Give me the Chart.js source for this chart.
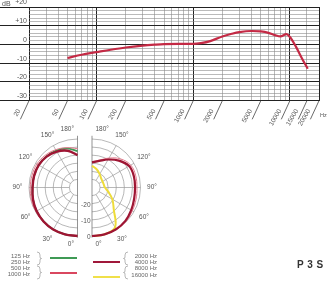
<!DOCTYPE html>
<html>
<head>
<meta charset="utf-8">
<title>P 3 S</title>
<script src="https://cdn.jsdelivr.net/npm/chart.js@4.4.1/dist/chart.umd.min.js"></script>
<style>
  html, body { margin: 0; padding: 0; background: #fff; }
  body { position: relative; width: 330px; height: 281px; overflow: hidden; font-family: 'Liberation Sans', Arial, sans-serif; color: #555; }
  canvas { position: absolute; display: block; }
  #freqChart { left: 0; top: 0; }
  #polarChart { left: 0; top: 120px; }
  .t { position: absolute; white-space: nowrap; line-height: 1; }
  .leg { font-size: 6px; color: #666; text-align: right; width: 40px; }
  .swatch { position: absolute; width: 27px; height: 2px; }
  #model { position: absolute; left: 297px; top: 259px; font-size: 10px; font-weight: bold; color: #333; letter-spacing: 0.5px; }
</style>
</head>
<body>
<canvas id="freqChart" width="330" height="126"></canvas>
<canvas id="polarChart" width="170" height="130"></canvas>

<span class="t" style="left:2px;top:0px;font-size:7px;">dB</span>
<span class="t" style="left:320px;top:113px;font-size:5.5px;">Hz</span>

<div class="t leg" style="left:-10px;top:252.7px">125 Hz</div>
<div class="t leg" style="left:-10px;top:258.7px">250 Hz</div>
<div class="t leg" style="left:-10px;top:265px">500 Hz</div>
<div class="t leg" style="left:-10px;top:271.3px">1000 Hz</div>
<div class="t leg" style="left:117px;top:252.7px">2000 Hz</div>
<div class="t leg" style="left:117px;top:259px">4000 Hz</div>
<div class="t leg" style="left:117px;top:265.3px">8000 Hz</div>
<div class="t leg" style="left:117px;top:271.7px">16000 Hz</div>

<div class="swatch" style="left:50px;top:257.3px;background:#3f9a55"></div>
<div class="swatch" style="left:50px;top:272.3px;background:#d9475f"></div>
<div class="swatch" style="left:93px;top:260.7px;background:#a0183a"></div>
<div class="swatch" style="left:93px;top:276.3px;background:#f0e04a"></div>

<svg style="position:absolute;left:0;top:0;pointer-events:none" width="330" height="281">
  <g fill="none" stroke="#888" stroke-width="0.6">
    <path d="M37 252 q3 0 3 3 v2 q0 1.5 1.5 1.5 q-1.5 0 -1.5 1.5 v2 q0 3 -3 3"/>
    <path d="M37 266 q3 0 3 3 v2 q0 1.5 1.5 1.5 q-1.5 0 -1.5 1.5 v2 q0 3 -3 3"/>
    <path d="M128 252 q-3 0 -3 3 v2 q0 1.5 -1.5 1.5 q1.5 0 1.5 1.5 v2 q0 3 3 3"/>
    <path d="M128 266 q-3 0 -3 3 v2 q0 1.5 -1.5 1.5 q1.5 0 1.5 1.5 v2 q0 3 3 3"/>
  </g>
</svg>

<div id="model">P 3 S</div>

<script>
// frequency response
const freqHz = [50, 70, 100, 140, 200, 300, 400, 500, 700, 1000, 1200, 1500, 2000, 2500, 3000, 4000, 5000, 6000, 7000, 8000, 9200, 10000, 11500, 13300, 15300];
const responseDb = [-7.2, -5.5, -4.1, -2.8, -1.6, -0.6, -0.1, 0.2, 0.3, 0.3, 0.7, 1.8, 4.3, 5.7, 6.6, 7.2, 7.0, 6.2, 5.0, 4.3, 5.5, 4.0, -1.0, -7.3, -13.0];

// axes of the frequency chart
const gridHz = [20, 30, 40, 50, 60, 70, 80, 90, 100, 200, 300, 400, 500, 600, 700, 800, 900, 1000, 2000, 3000, 4000, 5000, 6000, 7000, 8000, 9000, 10000, 15000, 20000];
const freqLabels = [20, 50, 100, 200, 500, 1000, 2000, 5000, 10000, 15000, 20000];
const decadeHz = [20, 100, 1000, 10000, 20000];
const dbGrid = [-30, -28, -26, -24, -22, -20, -18, -16, -14, -12, -10, -8, -6, -4, -2, 0, 2, 4, 6, 8, 10, 12, 14, 16, 18, 20];
const dbLabels = [-30, -20, -10, 0, 10, 20];

// polar patterns, dB at each angle (0° = front, bottom of the plot)
const polarAngles = [0, 15, 30, 45, 60, 75, 90, 105, 120, 135, 150, 165, 180];
const low125_250 = [0, 0, 0, -0.3, -0.8, -1.5, -2.2, -2.2, -2.3, -2.8, -3.6, -5.0, -7.5];
const low500 = [0, 0, 0, -0.1, -0.3, -0.5, -0.8, -0.9, -1.0, -1.8, -3.0, -4.5, -6.0];
const low1000 = [0, 0, 0, -0.3, -0.8, -1.5, -2.2, -2.2, -2.3, -3.0, -4.4, -6.5, -10.0];
const high2000 = [0, 0, -0.2, -0.8, -2.0, -3.0, -3.4, -3.2, -3.5, -6.5, -10.0, -13.0, -14.5];
const high4000 = [0, 0, 0, -0.3, -1.2, -1.8, -2.2, -2.0, -2.3, -5.0, -9.0, -12.5, -14.0];
const high8000 = [0, 0, -1.5, -11.0, -15.5, -19.5, -22.0, -22.5, -22.5, -22.0, -20.5, -18.5, -16.5];
const polarRings = [-25, -20, -15, -10, -5, 0];
const polarSpokes = [30, 60, 90, 120, 150];
const polarAngleLabels = [0, 30, 60, 90, 120, 150, 180];
const polarDbLabels = [0, -10, -20];

const DB_MIN = -30;
const TEXT = '#555';
const FONT = "'Liberation Sans', Arial, sans-serif";

// ---------- frequency response ----------
const slantTicks = {
    id: 'slantTicks',
    afterDraw(chart) {
        const { ctx, chartArea } = chart;
        const x = chart.scales.x;
        ctx.save();
        ctx.strokeStyle = '#444';
        ctx.lineWidth = 0.8;
        freqLabels.forEach(f => {
            const px = x.getPixelForValue(f);
            ctx.beginPath();
            ctx.moveTo(px, chartArea.bottom);
            ctx.lineTo(px - 8.6, chartArea.bottom + 18.6);
            ctx.stroke();
        });
        ctx.restore();
    }
};

const isMajorDb = v => dbLabels.includes(v);
const isDecade = v => decadeHz.includes(v);

new Chart(document.getElementById('freqChart'), {
    type: 'line',
    data: {
        datasets: [{
            data: freqHz.map((f, i) => ({ x: f, y: responseDb[i] })),
            borderColor: '#c42a45',
            borderWidth: 2.2,
            pointRadius: 0,
            cubicInterpolationMode: 'monotone'
        }]
    },
    options: {
        responsive: false,
        animation: false,
        layout: { padding: { top: 7, right: 11, left: 0, bottom: 0 } },
        plugins: { legend: { display: false }, tooltip: { enabled: false } },
        scales: {
            x: {
                type: 'logarithmic', min: 20, max: 20000,
                afterBuildTicks: s => { s.ticks = gridHz.map(v => ({ value: v })); },
                afterFit: s => { s.height = 25.3; s.paddingLeft = 0; s.paddingRight = 0; },
                grid: {
                    color: c => isDecade(c.tick.value) ? '#222' : '#8c8c8c',
                    lineWidth: c => isDecade(c.tick.value) ? 1 : 0.6,
                    drawTicks: false
                },
                border: { display: false },
                ticks: {
                    autoSkip: false, minRotation: 60, maxRotation: 60,
                    padding: 7, labelOffset: -10,
                    color: TEXT, font: { family: FONT, size: 6.5 },
                    callback: v => freqLabels.includes(v) ? String(v) : ''
                }
            },
            y: {
                min: -30, max: 20,
                afterBuildTicks: s => { s.ticks = dbGrid.map(v => ({ value: v })); },
                afterFit: s => { s.width = 29; s.paddingTop = 0; s.paddingBottom = 0; },
                grid: {
                    color: c => isMajorDb(c.tick.value) ? '#222' : '#8c8c8c',
                    lineWidth: c => isMajorDb(c.tick.value) ? 1 : 0.6,
                    tickLength: 29,
                    tickColor: c => isMajorDb(c.tick.value) ? '#222' : 'rgba(0,0,0,0)'
                },
                border: { display: false },
                ticks: {
                    autoSkip: false, padding: -27, labelOffset: -4.5,
                    color: TEXT, font: { family: FONT, size: 7 },
                    callback: v => isMajorDb(v) ? (v > 0 ? '+' + v : String(v)) : ''
                }
            }
        }
    },
    plugins: [slantTicks]
});

// ---------- polar patterns ----------
const PX_PER_DB = 48.5 / 30;
const POLAR_W = 170, POLAR_H = 130;
const MID_PX_X = 84.75, MID_PX_Y = 67.5;
const HALF_GAP = 7.25 / PX_PER_DB;

function toXY(side, values) {
    return polarAngles.map((a, i) => {
        const r = values[i] - DB_MIN;
        const t = a * Math.PI / 180;
        return { x: side * (HALF_GAP + r * Math.sin(t)), y: -r * Math.cos(t) };
    });
}

function curve(side, values, color, width) {
    return {
        data: toXY(side, values), showLine: true, borderColor: color, borderWidth: width,
        pointRadius: 0, tension: 0.4, fill: false
    };
}

const polarGrid = {
    id: 'polarGrid',
    beforeDatasetsDraw(chart) {
        const { ctx } = chart;
        const sx = chart.scales.x, sy = chart.scales.y;
        const cy = sy.getPixelForValue(0);
        const unit = sx.getPixelForValue(1) - sx.getPixelForValue(0);
        ctx.save();
        ctx.lineWidth = 0.7;
        [-1, 1].forEach(side => {
            const cx = sx.getPixelForValue(side * HALF_GAP);
            ctx.strokeStyle = '#9a9a9a';
            polarRings.forEach(db => {
                const r = (db - DB_MIN) * unit;
                ctx.beginPath();
                if (side < 0) ctx.arc(cx, cy, r, Math.PI / 2, 3 * Math.PI / 2);
                else ctx.arc(cx, cy, r, -Math.PI / 2, Math.PI / 2);
                ctx.stroke();
            });
            polarSpokes.forEach(a => {
                const t = a * Math.PI / 180;
                const r0 = polarRings[0] - DB_MIN, r1 = 0 - DB_MIN;
                ctx.beginPath();
                ctx.moveTo(sx.getPixelForValue(side * (HALF_GAP + r0 * Math.sin(t))), sy.getPixelForValue(-r0 * Math.cos(t)));
                ctx.lineTo(sx.getPixelForValue(side * (HALF_GAP + r1 * Math.sin(t))), sy.getPixelForValue(-r1 * Math.cos(t)));
                ctx.stroke();
            });
            ctx.strokeStyle = '#666';
            ctx.beginPath();
            ctx.moveTo(cx, sy.getPixelForValue(32));
            ctx.lineTo(cx, sy.getPixelForValue(-31));
            ctx.stroke();
        });
        ctx.restore();
    },
    afterDraw(chart) {
        const { ctx } = chart;
        const sx = chart.scales.x, sy = chart.scales.y;
        const cy = sy.getPixelForValue(0);
        const labelR = 37.1;
        ctx.save();
        ctx.fillStyle = TEXT;
        ctx.font = '6.5px ' + FONT;
        ctx.textBaseline = 'middle';
        [-1, 1].forEach(side => {
            const cx = sx.getPixelForValue(side * HALF_GAP);
            polarAngleLabels.forEach(a => {
                const txt = a + '°';
                if (a === 0 || a === 180) {
                    ctx.textAlign = side < 0 ? 'right' : 'left';
                    const y = a === 0 ? cy + 56.5 : cy - 58;
                    ctx.fillText(txt, cx + side * 3.5, y);
                } else {
                    const t = a * Math.PI / 180;
                    ctx.textAlign = 'center';
                    ctx.fillText(txt,
                        sx.getPixelForValue(side * (HALF_GAP + labelR * Math.sin(t))),
                        sy.getPixelForValue(-labelR * Math.cos(t)));
                }
            });
        });
        const cxR = sx.getPixelForValue(HALF_GAP);
        ctx.textAlign = 'right';
        polarDbLabels.forEach(db => {
            ctx.fillText(String(db), cxR - 1.5, sy.getPixelForValue(-(db - DB_MIN)) + 1.5);
        });
        ctx.restore();
    }
};

new Chart(document.getElementById('polarChart'), {
    type: 'scatter',
    data: {
        datasets: [
            curve(-1, low1000, '#9e1533', 2.4),
            curve(1, high2000, '#9e1533', 2.2),
            curve(1, high8000, '#eedc3a', 2),
            curve(-1, low500, '#e57a8c', 1),
            curve(1, high4000, '#e57a8c', 1),
            curve(-1, low125_250, '#3f9a55', 1.8)
        ]
    },
    options: {
        responsive: false,
        animation: false,
        layout: { padding: 0 },
        plugins: { legend: { display: false }, tooltip: { enabled: false } },
        scales: {
            x: { type: 'linear', display: false, bounds: 'data', min: -MID_PX_X / PX_PER_DB, max: (POLAR_W - MID_PX_X) / PX_PER_DB },
            y: { type: 'linear', display: false, bounds: 'data', min: -(POLAR_H - MID_PX_Y) / PX_PER_DB, max: MID_PX_Y / PX_PER_DB }
        }
    },
    plugins: [polarGrid]
});
</script>
</body>
</html>
